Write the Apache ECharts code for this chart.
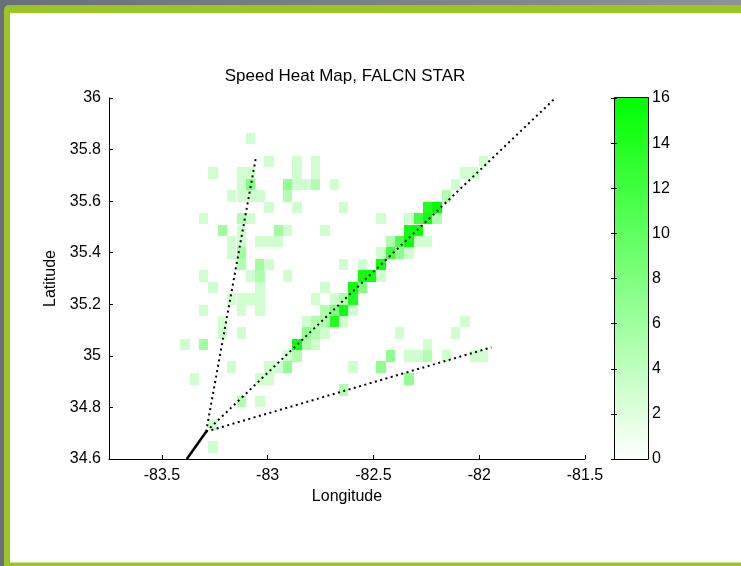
<!DOCTYPE html>
<html><head><meta charset="utf-8">
<script src="https://cdn.jsdelivr.net/npm/echarts@6/dist/echarts.min.js"></script>
<style>html,body{margin:0;padding:0;background:#fff}#c{width:741px;height:566px}</style>
</head><body><div id="c"></div>
<script>
const titleText = 'Speed Heat Map, FALCN STAR';
const xName = 'Longitude';
const yName = 'Latitude';
const xTicks = [-83.5, -83, -82.5, -82, -81.5];
const yTicks = [34.6, 34.8, 35, 35.2, 35.4, 35.6, 35.8, 36];
const cbarMin = 0, cbarMax = 16, cbarStep = 2;

// bin centres (longitude columns, latitude rows)
const lonBins = [-83.390,-83.346,-83.302,-83.258,-83.214,-83.170,-83.125,-83.081,-83.037,-82.993,
  -82.949,-82.905,-82.861,-82.817,-82.773,-82.729,-82.684,-82.640,-82.596,-82.552,
  -82.508,-82.464,-82.420,-82.376,-82.332,-82.288,-82.243,-82.199,-82.155,-82.111,
  -82.067,-82.023,-81.979];
const latBins = [34.646,34.690,34.734,34.778,34.823,34.867,34.911,34.956,35.000,35.044,
  35.089,35.133,35.177,35.221,35.266,35.310,35.354,35.399,35.443,35.487,
  35.532,35.576,35.620,35.664,35.709,35.753,35.797,35.842];
const cellW = 0.0441, cellH = 0.0443;

// [column, row, speed]
const heatCells = [
  [7,27,3],
  [9,25,3],[12,25,3],[14,25,3],
  [3,24,3],[6,24,3],[7,24,3],[12,24,3],[14,24,3],
  [6,23,3],[7,23,8],[11,23,7],[12,23,3],[13,23,3],[14,23,5],[16,23,3],
  [5,22,3],[6,22,3],[7,22,3],[8,22,3],[11,22,5],
  [9,21,3],[12,21,3],[17,21,3],
  [2,20,3],[6,20,5],[7,20,3],
  [4,19,6],[6,19,3],[10,19,6],[11,19,3],[15,19,3],
  [5,18,3],[6,18,3],[8,18,3],[9,18,3],[10,18,3],
  [5,17,3],[6,17,6],
  [6,16,5],[8,16,6],[9,16,3],
  [2,15,3],[7,15,3],[8,15,5],[11,15,3],
  [3,14,3],[8,14,3],[15,14,3],
  [5,13,3],[6,13,3],[7,13,3],[8,13,3],
  [2,12,3],[6,12,3],[8,12,3],
  [4,11,3],[4,10,3],[6,10,3],
  [0,9,3],[2,9,6],
  [5,7,3],[1,6,3],
  [6,4,5],[8,4,3],
  [3,2,3],[3,0,3],
  [32,25,3],
  [30,24,3],[31,24,3],
  [29,23,3],
  [28,22,5],
  [26,21,14],[27,21,16],
  [21,20,3],[24,20,3],[25,20,12],[26,20,15],[27,20,5],
  [24,19,15],[25,19,15],
  [22,18,5],[23,18,11],[24,18,15],[25,18,3],[26,18,3],
  [21,17,3],[22,17,12],[23,17,7],[24,17,3],
  [17,16,3],[19,16,3],[21,16,15],
  [19,15,15],[20,15,15],[21,15,3],
  [18,14,15],[19,14,8],
  [14,13,3],[16,13,3],[17,13,5],[18,13,14],
  [15,12,5],[16,12,8],[17,12,15],[18,12,3],
  [13,11,3],[14,11,5],[15,11,5],[16,11,14],[17,11,3],
  [13,10,7],[14,10,5],[15,10,3],
  [12,9,15],[13,9,5],[14,9,3],
  [11,8,3],[12,8,5],
  [9,7,3],[10,7,3],[11,7,7],
  [8,6,3],[9,6,3],
  [23,10,3],[29,10,3],[30,11,3],
  [26,9,3],
  [22,8,7],[24,8,3],[25,8,3],[26,8,5],[28,8,3],[31,8,3],[32,8,3],
  [18,7,3],[21,7,7],
  [24,6,7],
  [17,5,5]
];

// flight tracks [lon, lat]
const trunkPath = [[-83.382, 34.600], [-83.291, 34.706]];
const pathNorth = [[-83.291, 34.706], [-83.054, 35.776]];
const pathNortheast = [[-83.291, 34.706], [-81.640, 36.000]];
const pathEast = [[-83.291, 34.706], [-81.942, 35.033]];

const FONT = '"Liberation Sans", Arial, Helvetica, sans-serif';
const chart = echarts.init(document.getElementById('c'), null, {renderer: 'canvas'});
const heatData = heatCells.map(([c, r, v]) => [lonBins[c], latBins[r], v]);

const dotted = {color: '#000', width: 2, type: [2, 3.5], cap: 'butt'};

chart.setOption({
  animation: false,
  backgroundColor: '#fff',
  graphic: [
    {type: 'rect', z: -100, silent: true, shape: {x: 0, y: 0, width: 741, height: 566},
     style: {fill: {type: 'linear', x: 0, y: 0, x2: 1, y2: 0, colorStops: [{offset: 0, color: '#68707a'}, {offset: 1, color: '#8e9297'}]}}},
    {type: 'rect', z: -99, silent: true, shape: {x: 4, y: 5, width: 760, height: 570, r: [5, 0, 0, 0]},
     style: {fill: '#9bc425'}},
    {type: 'rect', z: -98, silent: true, shape: {x: 10, y: 13, width: 760, height: 549.5},
     style: {fill: '#ffffff'}}
  ],
  title: {
    text: titleText, left: 345, top: 68, textAlign: 'center', padding: 0,
    textStyle: {fontSize: 17, fontWeight: 'normal', color: '#000', fontFamily: FONT}
  },
  grid: [
    {left: 109, top: 98, width: 476, height: 361},
    {left: 614, top: 98, width: 35, height: 361}
  ],
  visualMap: {
    show: false, type: 'continuous', seriesIndex: 0, dimension: 2,
    min: cbarMin, max: cbarMax, inRange: {color: ['#ffffff', '#00ff00']}
  },
  xAxis: [
    {gridIndex: 0, type: 'value', min: -83.75, max: -81.5,
     name: xName, nameLocation: 'middle', nameGap: 30,
     nameTextStyle: {fontSize: 16, color: '#000', fontFamily: FONT},
     axisLine: {show: true, onZero: false, lineStyle: {color: '#000', width: 1}},
     axisTick: {show: true, inside: true, length: 4, customValues: xTicks, lineStyle: {color: '#000'}},
     axisLabel: {customValues: xTicks, fontSize: 16, color: '#000', margin: 9, fontFamily: FONT},
     splitLine: {show: false}},
    {gridIndex: 1, type: 'value', min: 0, max: 1, show: false}
  ],
  yAxis: [
    {gridIndex: 0, type: 'value', min: 34.6, max: 36,
     name: yName, nameLocation: 'middle', nameGap: 48, nameRotate: 90,
     nameTextStyle: {fontSize: 16, color: '#000', fontFamily: FONT},
     axisLine: {show: true, onZero: false, lineStyle: {color: '#000', width: 1}},
     axisTick: {show: true, inside: true, length: 4, customValues: yTicks, lineStyle: {color: '#000'}},
     axisLabel: {customValues: yTicks, fontSize: 16, color: '#000', margin: 8, fontFamily: FONT},
     splitLine: {show: false}},
    {gridIndex: 1, type: 'value', min: cbarMin, max: cbarMax, interval: cbarStep, position: 'right',
     axisLine: {show: false},
     axisTick: {show: true, inside: true, length: 3, lineStyle: {color: '#000'}},
     axisLabel: {fontSize: 16, color: '#000', margin: 3, fontFamily: FONT},
     splitLine: {show: false}},
    {gridIndex: 1, type: 'value', min: cbarMin, max: cbarMax, interval: cbarStep, position: 'left',
     axisLine: {show: false},
     axisTick: {show: true, inside: true, length: 3, lineStyle: {color: '#000'}},
     axisLabel: {show: false},
     splitLine: {show: false}}
  ],
  series: [
    {
      type: 'custom', name: 'speed', xAxisIndex: 0, yAxisIndex: 0, z: 1, clip: true,
      encode: {x: 0, y: 1},
      data: heatData,
      renderItem: function (params, api) {
        const lon = api.value(0), lat = api.value(1);
        const p1 = api.coord([lon - cellW / 2, lat + cellH / 2]);
        const p2 = api.coord([lon + cellW / 2, lat - cellH / 2]);
        const x1 = Math.round(p1[0]), y1 = Math.round(p1[1]);
        const x2 = Math.round(p2[0]), y2 = Math.round(p2[1]);
        return {type: 'rect', shape: {x: x1, y: y1, width: x2 - x1, height: y2 - y1},
                style: {fill: api.visual('color')}};
      }
    },
    {
      type: 'custom', name: 'colorbar', xAxisIndex: 1, yAxisIndex: 1, z: -1,
      encode: {x: 0, y: [1, 2]},
      data: [[0, cbarMin, cbarMax]],
      renderItem: function (params, api) {
        const p1 = api.coord([0, api.value(2)]);
        const p2 = api.coord([1, api.value(1)]);
        const x1 = Math.round(p1[0]) + 0.5, y1 = Math.round(p1[1]) - 0.5;
        const x2 = Math.round(p2[0]) - 0.5, y2 = Math.round(p2[1]) + 0.5;
        return {type: 'rect', shape: {x: x1, y: y1, width: x2 - x1, height: y2 - y1},
                style: {fill: {type: 'linear', x: 0, y: 1, x2: 0, y2: 0,
                  colorStops: [{offset: 0, color: '#ffffff'}, {offset: 1, color: '#00ff00'}]},
                  stroke: '#000', lineWidth: 1}};
      }
    },
    {type: 'line', xAxisIndex: 0, yAxisIndex: 0, z: 5, data: trunkPath, showSymbol: false, symbol: 'none',
     lineStyle: {color: '#000', width: 2.5}},
    {type: 'line', xAxisIndex: 0, yAxisIndex: 0, z: 5, data: pathNorth, showSymbol: false, symbol: 'none', lineStyle: dotted},
    {type: 'line', xAxisIndex: 0, yAxisIndex: 0, z: 5, data: pathNortheast, showSymbol: false, symbol: 'none', lineStyle: dotted},
    {type: 'line', xAxisIndex: 0, yAxisIndex: 0, z: 5, data: pathEast, showSymbol: false, symbol: 'none', lineStyle: dotted}
  ]
});
</script></body></html>
